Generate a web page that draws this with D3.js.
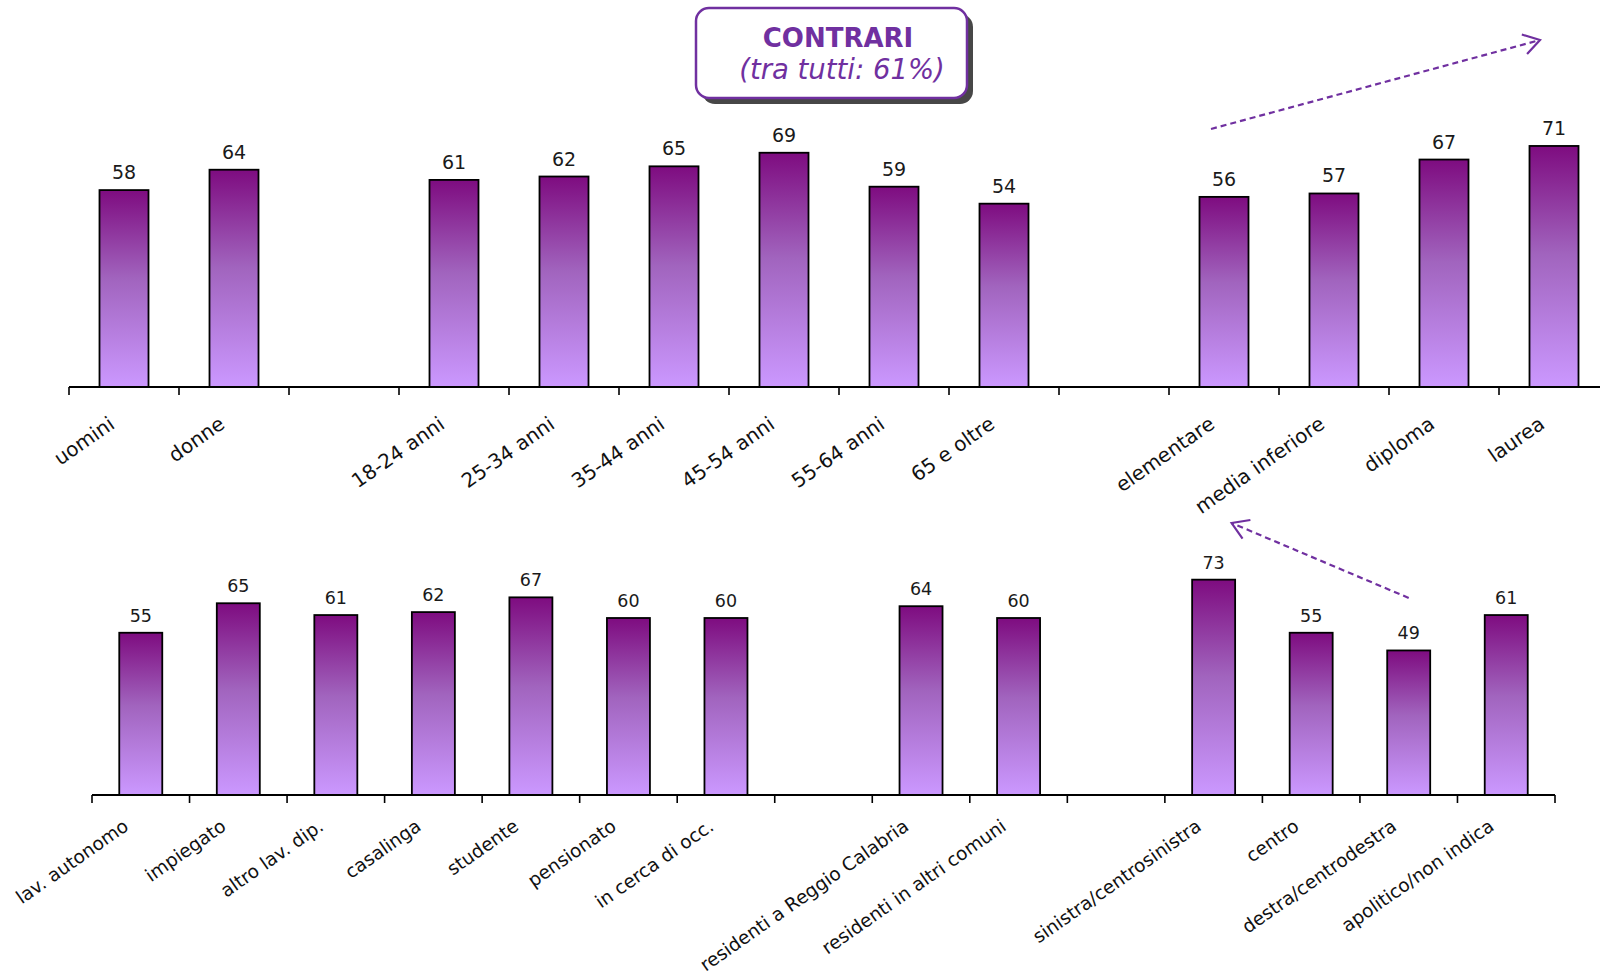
<!DOCTYPE html>
<html>
<head>
<meta charset="utf-8">
<script src="https://cdn.jsdelivr.net/npm/d3@7"></script>
<style>
  html, body { margin: 0; padding: 0; background: #fff; overflow: hidden; }
  svg { display: block; }
</style>
</head>
<body>
<svg id="chart" width="1600" height="974"></svg>
<script>
// ---------------- DATA ----------------
// null = empty gap slot between groups
const topCategories = ["uomini", "donne", null, "18-24 anni", "25-34 anni", "35-44 anni", "45-54 anni", "55-64 anni", "65 e oltre", null, "elementare", "media inferiore", "diploma", "laurea"];
const topValues     = [58, 64, null, 61, 62, 65, 69, 59, 54, null, 56, 57, 67, 71];

const bottomCategories = ["lav. autonomo", "impiegato", "altro lav. dip.", "casalinga", "studente", "pensionato", "in cerca di occ.", null, "residenti a Reggio Calabria", "residenti in altri comuni", null, "sinistra/centrosinistra", "centro", "destra/centrodestra", "apolitico/non indica"];
const bottomValues     = [55, 65, 61, 62, 67, 60, 60, null, 64, 60, null, 73, 55, 49, 61];

const titleMain = "CONTRARI";
const titleSub = "(tra tutti: 61%)";

// ---------------- DRAW ----------------
const svg = d3.select("#chart");
const purple = "#7030A0";

const defs = svg.append("defs");
const grad = defs.append("linearGradient").attr("id", "barGrad")
  .attr("x1", 0).attr("y1", 0).attr("x2", 0).attr("y2", 1);
grad.append("stop").attr("offset", "0%").attr("stop-color", "#7E0C80");
grad.append("stop").attr("offset", "45%").attr("stop-color", "#A164BE");
grad.append("stop").attr("offset", "100%").attr("stop-color", "#CB98FF");

function drawPanel(cfg) {
  const { categories, values, x0, x1, axisY, yTop, barWidth, valueFont, labelFont, labelDx, labelDy } = cfg;
  const idx = categories.map((d, i) => i);
  const x = d3.scaleBand().domain(idx).range([x0, x1]).paddingInner(0).paddingOuter(0);
  const y = d3.scaleLinear().domain([0, 100]).range([axisY, yTop]);
  const g = svg.append("g");

  const data = idx.filter(i => values[i] != null).map(i => ({ i, cat: categories[i], v: values[i] }));

  g.selectAll("rect.bar").data(data).enter().append("rect")
    .attr("class", "bar")
    .attr("x", d => x(d.i) + x.bandwidth() / 2 - barWidth / 2)
    .attr("y", d => y(d.v))
    .attr("width", barWidth)
    .attr("height", d => y(0) - y(d.v))
    .attr("fill", "url(#barGrad)")
    .attr("stroke", "#000")
    .attr("stroke-width", 1.8);

  g.selectAll("text.val").data(data).enter().append("text")
    .attr("class", "val")
    .attr("x", d => x(d.i) + x.bandwidth() / 2)
    .attr("y", d => y(d.v) - 11)
    .attr("text-anchor", "middle")
    .attr("font-family", "DejaVu Sans, Verdana, sans-serif")
    .attr("font-size", valueFont)
    .attr("fill", "#1a1a1a")
    .text(d => d.v);

  const tickPos = idx.map(i => x(i)).concat([x.range()[1]]);
  g.append("line")
    .attr("x1", x0).attr("x2", x1)
    .attr("y1", y(0)).attr("y2", y(0))
    .attr("stroke", "#000").attr("stroke-width", 2);
  g.selectAll("line.tick").data(tickPos).enter().append("line")
    .attr("class", "tick")
    .attr("x1", d => d).attr("x2", d => d)
    .attr("y1", y(0)).attr("y2", y(0) + 8)
    .attr("stroke", "#000").attr("stroke-width", 1.6);

  g.selectAll("text.cat").data(data).enter().append("text")
    .attr("class", "cat")
    .attr("transform", d => `translate(${x(d.i) + x.bandwidth() / 2 + labelDx},${y(0) + labelDy}) rotate(-35)`)
    .attr("text-anchor", "end")
    .attr("font-family", "DejaVu Sans, Verdana, sans-serif")
    .attr("font-size", labelFont)
    .attr("fill", "#111")
    .text(d => d.cat);

  return { x, y };
}

const topPanel = drawPanel({
  categories: topCategories, values: topValues,
  x0: 69, x1: 69 + 110 * topCategories.length, axisY: 387, yTop: 47.5,
  barWidth: 49, valueFont: 19, labelFont: 20, labelDx: -8, labelDy: 40
});

const botPanel = drawPanel({
  categories: bottomCategories, values: bottomValues,
  x0: 92, x1: 1555, axisY: 795, yTop: 500,
  barWidth: 43, valueFont: 17.5, labelFont: 18.5, labelDx: -11, labelDy: 34
});

// ---------------- ANNOTATIONS ----------------
function dashedArrow(p0, p1) {
  svg.append("line")
    .attr("x1", p0[0]).attr("y1", p0[1]).attr("x2", p1[0]).attr("y2", p1[1])
    .attr("stroke", purple).attr("stroke-width", 2.2)
    .attr("stroke-dasharray", "6,4");
  const ang = Math.atan2(p0[1] - p1[1], p0[0] - p1[0]);
  const L = 19, a = 32 * Math.PI / 180;
  const b1 = [p1[0] + L * Math.cos(ang + a), p1[1] + L * Math.sin(ang + a)];
  const b2 = [p1[0] + L * Math.cos(ang - a), p1[1] + L * Math.sin(ang - a)];
  svg.append("path")
    .attr("d", `M${b1[0]},${b1[1]}L${p1[0]},${p1[1]}L${b2[0]},${b2[1]}`)
    .attr("fill", "none").attr("stroke", purple).attr("stroke-width", 2.2);
}
const tc = i => topPanel.x(i) + topPanel.x.bandwidth() / 2;
const bc = i => botPanel.x(i) + botPanel.x.bandwidth() / 2;
dashedArrow([tc(10) - 13, topPanel.y(76)], [tc(13) - 14, topPanel.y(102.2)]);
dashedArrow([bc(13), botPanel.y(66.8)], [bc(11) + 18, botPanel.y(92.2)]);

// title box
const box = { x: 696, y: 8, w: 271, h: 90 };
svg.append("rect")
  .attr("x", box.x + 6).attr("y", box.y + 6).attr("width", box.w).attr("height", box.h)
  .attr("rx", 13).attr("fill", "#474747");
svg.append("rect")
  .attr("x", box.x).attr("y", box.y).attr("width", box.w).attr("height", box.h)
  .attr("rx", 13).attr("fill", "#fff").attr("stroke", purple).attr("stroke-width", 2.5);
svg.append("text")
  .attr("x", 838).attr("y", 47)
  .attr("text-anchor", "middle")
  .attr("font-family", "DejaVu Sans, Verdana, sans-serif")
  .attr("font-weight", "bold").attr("font-size", 26)
  .attr("fill", purple).text(titleMain);
svg.append("text")
  .attr("x", 842).attr("y", 79)
  .attr("text-anchor", "middle")
  .attr("font-family", "DejaVu Sans, Verdana, sans-serif")
  .attr("font-style", "italic").attr("font-size", 27.5)
  .attr("fill", purple).text(titleSub);
</script>
</body>
</html>
